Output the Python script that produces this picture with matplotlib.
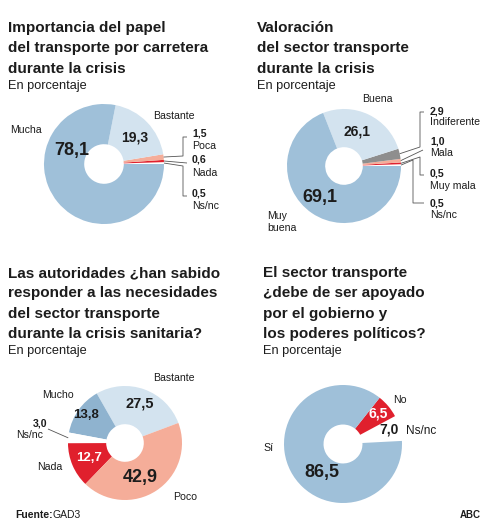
import numpy as np
import matplotlib
matplotlib.use("Agg")
import matplotlib.pyplot as plt

# ============================================================
# DATA
# ============================================================

c1_labels = ["Ns/nc", "Nada", "Poca", "Bastante", "Mucha"]
c1_values = [0.5, 0.6, 1.5, 19.3, 78.1]

c2_labels = ["Ns/nc", "Muy mala", "Mala", "Indiferente", "Buena", "Muy buena"]
c2_values = [0.5, 0.5, 1.0, 2.9, 26.1, 69.1]

c3_labels = ["Bastante", "Mucho", "Ns/nc", "Nada", "Poco"]
c3_values = [27.5, 13.8, 3.0, 12.7, 42.9]

c4_labels = ["Ns/nc", "No", "Sí"]
c4_values = [7.0, 6.5, 86.5]

titles = [
    ["Importancia del papel", "del transporte por carretera", "durante la crisis"],
    ["Valoración", "del sector transporte", "durante la crisis"],
    ["Las autoridades ¿han sabido", "responder a las necesidades",
     "del sector transporte", "durante la crisis sanitaria?"],
    ["El sector transporte", "¿debe de ser apoyado",
     "por el gobierno y", "los poderes políticos?"],
]

# ============================================================
# STYLE
# ============================================================

BLUE = "#9fc0d9"
LIGHT = "#d3e3ef"
MID = "#8fb3cf"
RED = "#e0202d"
SALMON = "#f5ad99"
GRAY = "#8e8e8e"
WHITE = "#ffffff"
INK = "#1c1c1c"

FONT = ["Liberation Sans Narrow", "Liberation Sans", "DejaVu Sans"]
plt.rcParams["font.family"] = FONT

W, H = 491, 531

fig = plt.figure(figsize=(W / 100, H / 100), dpi=100)
ax = fig.add_axes([0, 0, 1, 1])


def donut(values, colors, center, radius, start):
    # y axis is inverted later, so clockwise in data = counterclockwise on screen
    wedges, _ = ax.pie(
        values,
        colors=colors,
        center=center,
        radius=radius,
        startangle=-start,
        counterclock=False,
        wedgeprops=dict(width=radius * 0.67, linewidth=0),
    )
    return wedges


def edge_point(wedge, frac=0.5):
    ang = np.deg2rad(wedge.theta1 + frac * (wedge.theta2 - wedge.theta1))
    cx, cy = wedge.center
    return cx + wedge.r * np.cos(ang), cy + wedge.r * np.sin(ang)


def leader(wedge, path, frac=0.5):
    x0, y0 = edge_point(wedge, frac)
    xs = [x0] + [p[0] for p in path]
    ys = [y0] + [p[1] for p in path]
    ax.plot(xs, ys, color="#555555", lw=0.6, solid_capstyle="butt")


def txt(x, y, s, size=7.6, bold=False, ha="left", color=INK):
    ax.text(x, y, s, fontsize=size, fontweight="bold" if bold else "normal",
            ha=ha, va="baseline", color=color)


# ============================================================
# TITLES
# ============================================================

title_pos = [(8, 32), (257, 32), (8, 277), (263, 277)]
for (tx, ty), lines in zip(title_pos, titles):
    for i, line in enumerate(lines):
        txt(tx, ty + i * 20.3, line, size=11, bold=True)
    txt(tx, ty + len(lines) * 20.3 - 4, "En porcentaje", size=9.2)

# ============================================================
# CHART 1
# ============================================================

w1 = donut(c1_values, [WHITE, RED, SALMON, LIGHT, BLUE], (104, 164), 60, 0)

txt(10, 133, "Mucha")
txt(72, 155, "78,1", size=13, bold=True, ha="center")
txt(135, 142, "19,3", size=10, bold=True, ha="center")
txt(153, 119, "Bastante")

txt(192, 137, "1,5", bold=True)
txt(192, 149, "Poca")
txt(192, 163, "0,6", bold=True)
txt(192, 176, "Nada")
txt(192, 197, "0,5", bold=True)
txt(192, 209, "Ns/nc")

leader(w1[2], [(183, 156), (183, 137), (187, 137)])
leader(w1[1], [(187, 163)])
leader(w1[0], [(183, 166), (183, 196), (187, 196)])

# ============================================================
# CHART 2
# ============================================================

w2 = donut(c2_values, [WHITE, RED, SALMON, GRAY, LIGHT, BLUE], (344, 166), 57, 0)

txt(362, 102, "Buena")
txt(357, 135, "26,1", size=10, bold=True, ha="center")
txt(320, 202, "69,1", size=13, bold=True, ha="center")
txt(267, 219, "Muy")
txt(267, 231, "buena")

txt(430, 114, "2,9", bold=True)
txt(430, 125, "Indiferente")
txt(430, 144, "1,0", bold=True)
txt(430, 156, "Mala")
txt(430, 177, "0,5", bold=True)
txt(430, 189, "Muy mala")
txt(430, 206, "0,5", bold=True)
txt(430, 218, "Ns/nc")

leader(w2[3], [(420, 147), (420, 112), (424, 112)])
leader(w2[2], [(423, 150)])
leader(w2[1], [(420, 157), (420, 175), (424, 175)])
leader(w2[0], [(413, 160), (413, 203), (424, 203)])

# ============================================================
# CHART 3
# ============================================================

w3 = donut(c3_values, [LIGHT, MID, WHITE, RED, SALMON], (125, 443), 57, 20.6)

txt(153, 381, "Bastante")
txt(42, 398, "Mucho")
txt(140, 408, "27,5", size=10.5, bold=True, ha="center")
txt(86, 418, "13,8", size=9.5, bold=True, ha="center")
txt(47, 426, "3,0", bold=True, ha="right")
txt(43, 438, "Ns/nc", ha="right")
txt(37, 470, "Nada")
txt(89, 461, "12,7", size=9.5, bold=True, ha="center", color="white")
txt(140, 482, "42,9", size=13, bold=True, ha="center")
txt(173, 500, "Poco")

leader(w3[2], [(48, 429)], frac=0.5)

# ============================================================
# CHART 4
# ============================================================

w4 = donut(c4_values, [WHITE, RED, BLUE], (343, 444), 59, 3)

txt(393, 403, "No")
txt(378, 417, "6,5", size=10, bold=True, ha="center", color="white")
txt(389, 434, "7,0", size=10, bold=True, ha="center")
txt(406, 434, "Ns/nc", size=8.5)
txt(263, 451, "Sí")
txt(322, 477, "86,5", size=13, bold=True, ha="center")

# ============================================================
# FOOTER
# ============================================================

ax.text(15, 518, "Fuente:", fontsize=7.5, fontweight="bold", va="baseline", color=INK)
ax.text(53, 518, "GAD3", fontsize=7.5, va="baseline", color=INK)
ax.text(460, 518, "ABC", fontsize=7, fontweight="bold", va="baseline", color=INK)

ax.set_xlim(0, W)
ax.set_ylim(H, 0)
ax.set_aspect("equal")
ax.axis("off")

fig.savefig("out.png", dpi=100)
